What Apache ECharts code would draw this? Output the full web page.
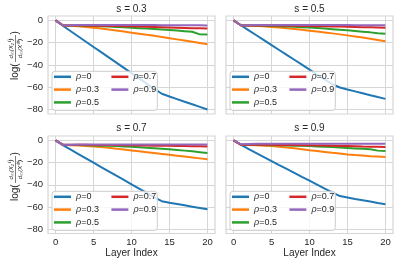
<!DOCTYPE html>
<html><head><meta charset="utf-8">
<script src="https://cdn.jsdelivr.net/npm/echarts@6/dist/echarts.min.js"></script>
<style>html,body{margin:0;padding:0;background:#fff}#c{width:398px;height:264px}</style>
</head><body><div id="c"></div>
<script>
const layers = [0,1,2,3,4,5,6,7,8,9,10,11,12,13,14,15,16,17,18,19,20];
const rhoNames = ['ρ=0','ρ=0.3','ρ=0.5','ρ=0.7','ρ=0.9'];
const panelTitles = ['s = 0.3','s = 0.5','s = 0.7','s = 0.9'];
const xTicks = [0,5,10,15,20];
const yTicks = [0,-20,-40,-60,-80];
const xLabel = 'Layer Index';

// s = 0.3
const s03_rho0  = [0,-5,-9.7,-14.4,-19.1,-23.8,-28.5,-33.2,-37.9,-42.6,-47.3,-52,-56.7,-61.4,-65.8,-68.3,-70.6,-73,-75.3,-77.6,-80];
const s03_rho03 = [0,-4.5,-4.8,-5.2,-5.8,-6.5,-7.3,-8.2,-9.1,-10,-11,-11.9,-12.9,-13.8,-14.8,-15.9,-17,-18.1,-19.2,-20.3,-21.4];
const s03_rho05 = [0,-4.5,-4.5,-4.6,-4.8,-5,-5.2,-5.5,-5.8,-6.1,-6.5,-6.9,-7.3,-7.7,-8.1,-8.6,-9.1,-9.6,-10.2,-12.5,-12.7];
const s03_rho07 = [0,-4.5,-4.5,-4.5,-4.6,-4.7,-4.8,-4.9,-5,-5.1,-5.3,-5.5,-5.7,-5.9,-6.1,-6.3,-6.5,-6.7,-6.9,-7.1,-7.3];
const s03_rho09 = [0,-4.5,-4.3,-4.1,-4,-4,-4,-4,-4,-4,-4,-4,-4.1,-4.1,-4.2,-4.2,-4.3,-4.3,-4.4,-4.4,-4.5];
// s = 0.5
const s05_rho0  = [0,-4.5,-8.9,-13.3,-17.7,-22.1,-26.5,-30.9,-35.3,-39.7,-44.1,-48.5,-52.9,-57.3,-60.2,-62,-63.7,-65.4,-67.1,-68.8,-70.4];
const s05_rho03 = [0,-4.5,-4.6,-4.9,-5.3,-5.8,-6.4,-7,-7.7,-8.4,-9.2,-10,-10.8,-11.6,-12.5,-13.4,-14.4,-15.4,-16.4,-17.5,-18.6];
const s05_rho05 = [0,-4.5,-4.5,-4.6,-4.7,-4.9,-5.1,-5.4,-5.7,-6,-6.4,-6.8,-7.3,-7.8,-8.3,-8.9,-9.5,-10.1,-10.7,-11.4,-12];
const s05_rho07 = [0,-4.5,-4.5,-4.5,-4.5,-4.6,-4.6,-4.7,-4.8,-4.9,-5,-5.1,-5.2,-5.4,-5.5,-5.7,-5.8,-6,-6.2,-6.4,-6.6];
const s05_rho09 = [0,-4.5,-4.2,-4,-4,-4,-4,-4,-4,-4,-4,-4,-4,-4.1,-4.1,-4.1,-4.2,-4.2,-4.2,-4.2,-4.2];
// s = 0.7
const s07_rho0  = [0,-4.5,-8.4,-12.3,-16.2,-20.1,-24,-27.9,-31.8,-35.7,-39.6,-43.5,-47.4,-51.3,-54.8,-56.2,-57.4,-58.6,-59.8,-61,-62.2];
const s07_rho03 = [0,-4,-4.3,-4.6,-5,-5.5,-6,-6.7,-7.4,-8.2,-9,-9.8,-10.6,-11.4,-12.2,-13,-13.8,-14.6,-15.4,-16.2,-17];
const s07_rho05 = [0,-4,-4.1,-4.2,-4.3,-4.5,-4.7,-4.9,-5.1,-5.4,-5.7,-6.1,-6.5,-7,-7.5,-8,-8.6,-9.2,-9.8,-10.6,-11.4];
const s07_rho07 = [0,-4,-4,-4,-4,-4.1,-4.1,-4.2,-4.2,-4.3,-4.4,-4.5,-4.6,-4.7,-4.8,-4.9,-5,-5.1,-5.2,-5.3,-5.4];
const s07_rho09 = [0,-4,-3.8,-3.6,-3.6,-3.6,-3.6,-3.6,-3.6,-3.6,-3.6,-3.6,-3.6,-3.6,-3.6,-3.6,-3.6,-3.6,-3.6,-3.6,-3.6];
// s = 0.9
const s09_rho0  = [0,-4,-7.8,-11.4,-15,-18.6,-22.2,-25.7,-29.2,-32.8,-36.3,-39.8,-43.4,-46.9,-50.2,-51.5,-52.8,-54,-55.2,-56.4,-57.5];
const s09_rho03 = [0,-4,-4.2,-4.4,-4.7,-5.1,-5.6,-6.3,-7.1,-7.9,-8.8,-9.6,-10.4,-11.2,-11.9,-12.6,-13.2,-13.7,-14.2,-14.6,-15];
const s09_rho05 = [0,-4,-4,-4.1,-4.2,-4.3,-4.4,-4.5,-4.7,-4.9,-5.1,-5.4,-5.7,-6,-6.4,-6.8,-7.2,-7.6,-8,-9.2,-9.6];
const s09_rho07 = [0,-4,-4,-4,-4,-4,-4.1,-4.1,-4.2,-4.3,-4.4,-4.5,-4.6,-4.8,-5,-5.1,-5.3,-5.5,-5.6,-5.8,-6];
const s09_rho09 = [0,-3.5,-3.2,-3,-3,-3,-3,-3,-3,-3,-3,-3,-3,-3,-3,-3,-3,-3,-3,-3,-3];

const panels = [
  [s03_rho0,s03_rho03,s03_rho05,s03_rho07,s03_rho09],
  [s05_rho0,s05_rho03,s05_rho05,s05_rho07,s05_rho09],
  [s07_rho0,s07_rho03,s07_rho05,s07_rho07,s07_rho09],
  [s09_rho0,s09_rho03,s09_rho05,s09_rho07,s09_rho09]
];
const colors = ['#1f77b4','#ff7f0e','#2ca02c','#d62728','#9467bd'];
const FONT = '"Liberation Sans", Arial, sans-serif';
const TXT = '#262626';
const GRIDC = '#d6d6d6';

const gridBoxes = [
  {left:48, top:16, width:167, height:98},
  {left:226, top:16, width:167, height:98},
  {left:48, top:136, width:167, height:97.5},
  {left:226, top:136, width:167, height:97.5}
];

const grid = gridBoxes.map(g => Object.assign({show:true, borderColor:GRIDC, borderWidth:1.2, backgroundColor:'#fff', containLabel:false}, g));

const fmtNum = v => v < 0 ? '\u2212' + (-v) : String(v);

const xAxis = gridBoxes.map((g,i) => ({
  type:'value', gridIndex:i, min:-1, max:21,
  axisLine:{show:false},
  axisTick:{show:false, customValues:xTicks},
  axisLabel:{show:i>=2, customValues:xTicks, margin:4, fontSize:9.5, color:TXT, fontFamily:FONT, formatter:fmtNum},
  splitLine:{show:true, lineStyle:{color:GRIDC, width:1}},
  name: i>=2 ? xLabel : '', nameLocation:'middle', nameGap:15,
  nameTextStyle:{fontSize:10, color:TXT, fontFamily:FONT}
}));
const yAxis = gridBoxes.map((g,i) => ({
  type:'value', gridIndex:i, min:-84, max:4,
  axisLine:{show:false},
  axisTick:{show:false, customValues:yTicks},
  axisLabel:{show:i%2===0, customValues:yTicks, margin:5, fontSize:9.5, color:TXT, fontFamily:FONT, formatter:fmtNum},
  splitLine:{show:true, lineStyle:{color:GRIDC, width:1}}
}));

const series = [];
panels.forEach((p,i) => {
  p.forEach((vals,k) => {
    series.push({
      type:'line', name:rhoNames[k], xAxisIndex:i, yAxisIndex:i,
      data: layers.map((x,j) => [x, vals[j]]),
      showSymbol:false, symbol:'none',
      lineStyle:{width:2, color:colors[k]}, itemStyle:{color:colors[k]},
      emphasis:{disabled:true}
    });
  });
});

const legend = gridBoxes.map(g => ({
  orient:'vertical', left:g.left+4, top:g.top+55.3, height:46,
  icon:'rect', itemWidth:17, itemHeight:2.5, itemGap:2.8,
  padding:[0.5,1,3,2],
  data: rhoNames.map((n,k) => k<3 ? {name:n, textStyle:{width:32.6}} : {name:n}),
  formatter: name => '{i|ρ}' + name.slice(1),
  textStyle:{fontSize:9, lineHeight:10, color:TXT, fontFamily:FONT,
    rich:{i:{fontStyle:'italic', fontSize:9, lineHeight:10, color:TXT, fontFamily:FONT}}},
  backgroundColor:'rgba(255,255,255,0.8)', borderColor:'#cccccc', borderWidth:1, borderRadius:3,
  selectedMode:false
}));

const graphic = [];
gridBoxes.forEach((g,i) => {
  graphic.push({type:'text', x:g.left+g.width/2, y:g.top-(i<2?7:7.5), silent:true,
    style:{text:panelTitles[i], fontSize:10, fill:TXT, fontFamily:FONT, align:'center', verticalAlign:'middle'}});
});
[57, 178].forEach(cy => {
  graphic.push({type:'group', x:15, y:cy, rotation:Math.PI/2, silent:true, children:[
    {type:'text', x:-23, y:0, style:{text:'log(', fontSize:10, fill:TXT, fontFamily:FONT, align:'left', verticalAlign:'middle'}},
    {type:'text', x:8.5, y:-4, style:{text:'d\u2098(X\u2082\u207D\u02E1\u207E)', fontSize:6, fontStyle:'italic', fill:TXT, fontFamily:FONT, align:'center', verticalAlign:'middle'}},
    {type:'line', shape:{x1:-5, y1:0.5, x2:22, y2:0.5}, style:{stroke:TXT, lineWidth:0.6}},
    {type:'text', x:8.5, y:5, style:{text:'d\u2098(X\u207D\u2070\u207E)', fontSize:6, fontStyle:'italic', fill:TXT, fontFamily:FONT, align:'center', verticalAlign:'middle'}},
    {type:'text', x:22.5, y:0, style:{text:')', fontSize:10, fill:TXT, fontFamily:FONT, align:'left', verticalAlign:'middle'}}
  ]});
});

const chart = echarts.init(document.getElementById('c'), null, {renderer:'canvas'});
chart.setOption({
  animation:false,
  backgroundColor:'#fff',
  textStyle:{fontFamily:FONT},
  grid, xAxis, yAxis, series, legend, graphic
});
</script></body></html>
